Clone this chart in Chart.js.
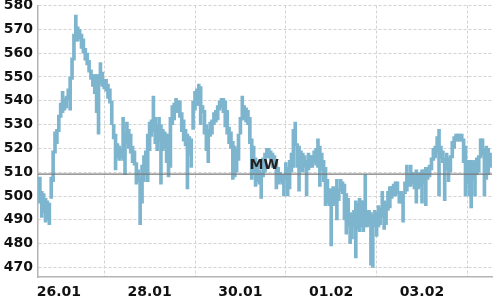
<!DOCTYPE html>
<html>
<head>
<meta charset="utf-8">
<script src="https://cdn.jsdelivr.net/npm/chart.js@4.4.1/dist/chart.umd.min.js"></script>
<style>
  html, body { margin: 0; padding: 0; background: #fff; }
  #wrap { width: 500px; height: 300px; }
</style>
</head>
<body>
<div id="wrap"><canvas id="kurs" width="500" height="300"></canvas></div>
<script>
// hourly values, first bar = 25.01 14:00 (hour -10 relative to 26.01 00:00)
const startHour = -10;
const lows = [
  497, 491, 493, 489, 490, 488, 499, 506, 518, 522,
  527, 533, 535, 536, 537, 540, 536, 549, 557, 565,
  565, 566, 562, 560, 557, 555, 552, 549, 546, 543,
  535, 526, 547, 546, 545, 544, 541, 539, 530, 524,
  511, 516, 515, 516, 515, 509, 522, 520, 518, 514,
  513, 505, 506, 488, 497, 506, 509, 506, 519, 525,
  527, 522, 519, 523, 505, 519, 520, 514, 508, 512,
  530, 532, 535, 535, 533, 527, 523, 521, 503, 517,
  512, 528, 536, 538, 538, 530, 535, 526, 519, 514,
  525, 526, 530, 531, 532, 536, 537, 535, 529, 526,
  522, 520, 507, 508, 510, 515, 526, 532, 532, 531,
  530, 522, 507, 509, 504, 506, 505, 499, 508, 510,
  516, 516, 515, 512, 512, 503, 505, 506, 505, 500,
  507, 500, 503, 510, 512, 521, 512, 502, 511, 510,
  512, 500, 511, 512, 512, 514, 513, 512, 504, 511,
  506, 496, 497, 496, 479, 496, 497, 490, 498, 502,
  501, 490, 484, 487, 480, 482, 487, 474, 486, 485,
  487, 485, 487, 487, 488, 471, 470, 487, 483, 487,
  488, 491, 486, 488, 494, 495, 499, 500, 500, 501,
  497, 497, 489, 501, 502, 504, 504, 505, 503, 497,
  503, 504, 497, 505, 496, 507, 508, 511, 515, 516,
  518, 500, 516, 514, 498, 511, 506, 510, 516, 520,
  523, 523, 523, 523, 514, 500, 505, 500, 495, 507,
  500, 509, 510, 516, 517, 500, 507, 509, 512
];
const highs = [
  508, 502, 501, 499, 498, 497, 508, 519, 527, 528,
  534, 539, 544, 541, 542, 545, 550, 558, 568, 576,
  571, 570, 568, 566, 562, 560, 557, 553, 551, 551,
  551, 551, 556, 552, 549, 549, 547, 545, 540, 530,
  526, 522, 521, 520, 533, 526, 531, 528, 526, 521,
  519, 514, 511, 508, 513, 517, 519, 526, 531, 532,
  542, 533, 530, 533, 530, 528, 527, 526, 526, 533,
  538, 539, 541, 540, 540, 535, 532, 528, 526, 525,
  524, 540, 544, 545, 547, 546, 538, 536, 530, 528,
  531, 532, 535, 536, 538, 540, 541, 541, 540, 536,
  529, 527, 523, 521, 520, 526, 533, 542, 538, 537,
  536, 533, 524, 521, 516, 514, 511, 510, 516, 518,
  520, 520, 519, 518, 517, 514, 512, 510, 509, 509,
  514, 512, 515, 518, 528, 531, 522, 521, 519, 518,
  517, 515, 518, 517, 517, 519, 520, 524, 521, 518,
  515, 512, 507, 503, 503, 504, 503, 507, 503, 507,
  506, 505, 501, 499, 493, 492, 494, 498, 497, 499,
  498, 498, 509, 494, 494, 493, 492, 494, 493, 496,
  495, 502, 498, 497, 502, 504, 504, 505, 506, 506,
  502, 502, 501, 506, 513, 509, 513, 510, 509, 511,
  509, 510, 511, 511, 512, 512, 513, 516, 520, 521,
  525, 528, 521, 519, 516, 518, 516, 517, 523, 525,
  526, 526, 526, 526, 524, 521, 515, 515, 515, 514,
  515, 516, 517, 524, 524, 520, 521, 520, 518
];
const dayLabels = ['26.01', '28.01', '30.01', '01.02', '03.02']; // every 48 h
const yTicks = [470, 480, 490, 500, 510, 520, 530, 540, 550, 560, 570, 580];
const mean = 509.2;
const meanLabel = 'MW';

const barColor = '#7eb5ce';
const gridColor = '#d2d2d2';
const axisColor = '#b4b4b4';
const tickFont = { family: 'DejaVu Sans', size: 14, weight: 'bold' };

const bars = lows.map((lo, i) => ({ x: startHour + i, y: [lo, highs[i]] }));
const xMin = startHour - 1;
const xMax = startHour + lows.length;

// Beschriftung der Mittelwert-Linie
const meanText = {
  id: 'meanText',
  afterDatasetsDraw(chart) {
    const { ctx, scales } = chart;
    ctx.save();
    ctx.font = 'bold 14px "DejaVu Sans"';
    ctx.fillStyle = '#222';
    ctx.textAlign = 'center';
    ctx.textBaseline = 'bottom';
    ctx.fillText(meanLabel, scales.x.getPixelForValue(108.6), scales.y.getPixelForValue(mean) - 2);
    ctx.restore();
  }
};

new Chart(document.getElementById('kurs'), {
  data: {
    datasets: [
      {
        type: 'line',
        data: [{ x: xMin, y: mean }, { x: xMax, y: mean }],
        borderColor: '#7a7a7a',
        borderWidth: 1.2,
        pointRadius: 0,
        order: 0
      },
      {
        type: 'bar',
        data: bars,
        backgroundColor: barColor,
        borderWidth: 0,
        barThickness: 3,
        grouped: false,
        order: 1
      }
    ]
  },
  options: {
    responsive: false,
    animation: false,
    events: [],
    layout: { padding: { top: 0, right: 8, left: 0, bottom: 0 } },
    plugins: { legend: { display: false }, tooltip: { enabled: false } },
    scales: {
      x: {
        type: 'linear',
        min: xMin,
        max: xMax,
        offset: false,
        afterBuildTicks(scale) { scale.ticks = dayLabels.map((_, i) => ({ value: i * 48 })); },
        afterFit(scale) { scale.height = 23; },
        border: { color: axisColor, width: 1.5, dash: [3, 2] },
        grid: { color: gridColor, drawTicks: false },
        ticks: {
          maxRotation: 0,
          autoSkip: false,
          padding: 7,
          color: '#111',
          font: tickFont,
          callback: (v) => dayLabels[Math.round(v / 48)]
        }
      },
      y: {
        min: 466,
        max: 580,
        afterBuildTicks(scale) { scale.ticks = yTicks.map(v => ({ value: v })); },
        afterFit(scale) {
          scale.width = 38;
          scale.paddingTop = 5.5;
          scale.paddingBottom = 0;
        },
        border: { color: axisColor, width: 1.5, dash: [3, 2] },
        grid: { color: gridColor, drawTicks: false },
        ticks: {
          padding: 5,
          color: '#111',
          font: tickFont
        }
      }
    }
  },
  plugins: [meanText]
});
</script>
</body>
</html>
